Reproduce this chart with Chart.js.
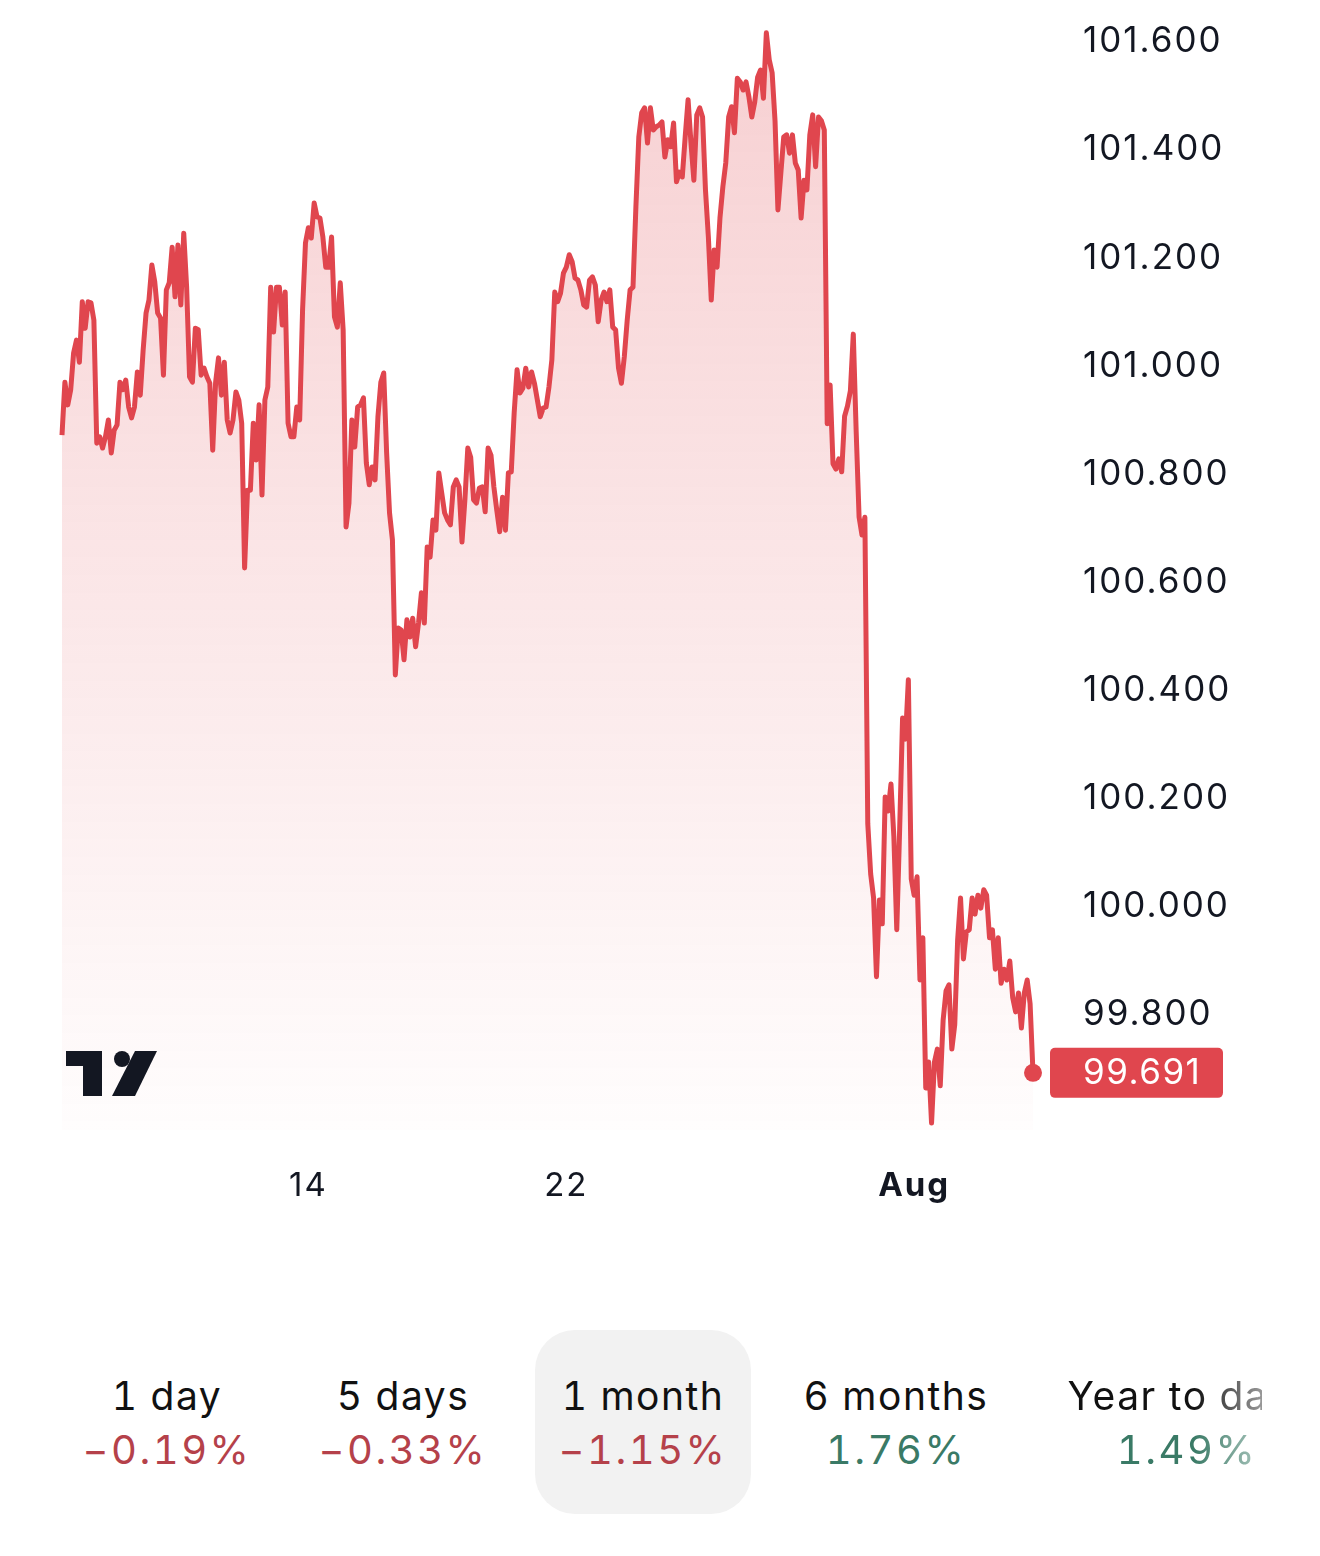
<!DOCTYPE html>
<html>
<head>
<meta charset="utf-8">
<script src="https://cdn.jsdelivr.net/npm/chart.js@4.4.1/dist/chart.umd.min.js"></script>
<style>
  html, body { margin: 0; padding: 0; background: #fff; }
  body { width: 1320px; height: 1556px; position: relative; overflow: hidden; font-family: Inter, "Noto Sans", sans-serif; color: #131722; }
  #wrap { position: absolute; left: 0; top: 0; width: 1320px; height: 1240px; }
  .logo { position: absolute; left: 66px; top: 1050px; }
  .sel-bg { position: absolute; left: 535px; top: 1330px; width: 216px; height: 184px; background: #f2f2f2; border-radius: 40px; }
  .per { position: absolute; top: 1372px; width: 320px; text-align: center; white-space: nowrap; font-variant-numeric: tabular-nums; }
  .per .t { font-size: 39px; line-height: 48px; color: #111; letter-spacing: 1.5px; }
  .per .p { font-size: 40px; line-height: 48px; margin-top: 6px; letter-spacing: 2.5px; }
  .neg { color: #b5414a; }
  .pos { color: #3a7a66; }
  .clip { position: absolute; left: 0; top: 1330px; width: 1262px; height: 200px; overflow: hidden; }
  .clip .per { top: 42px; -webkit-mask-image: linear-gradient(to right, #000 0, #000 52%, rgba(0,0,0,0.15) 84%); mask-image: linear-gradient(to right, #000 0, #000 52%, rgba(0,0,0,0.15) 84%); }
</style>
</head>
<body>
<div id="wrap"><canvas id="c"></canvas></div>

<svg class="logo" width="92" height="47" viewBox="0 0 92 47">
  <rect x="0" y="1" width="36" height="15" fill="#131722"/>
  <rect x="17" y="1" width="19" height="45" fill="#131722"/>
  <circle cx="56" cy="9" r="8" fill="#131722"/>
  <polygon points="69,1 91,1 69,46 46,46" fill="#131722"/>
</svg>

<div class="sel-bg"></div>
<div id="periods"></div>

<script>
// ── Data ────────────────────────────────────────────────────────────────────
const prices = [
  // early July
  100.872,100.970,100.928,100.956,101.024,101.048,101.007,101.119,101.070,101.119,
  101.117,101.085,100.857,100.869,100.848,100.869,100.900,100.839,100.881,100.891,
  100.970,100.956,100.974,100.924,100.904,100.924,100.989,100.946,101.030,101.098,
  101.122,101.187,101.156,101.098,101.089,100.983,101.141,101.154,101.220,101.128,
  101.224,101.113,101.246,101.146,100.980,100.970,101.070,101.067,100.983,100.996,
  100.980,100.968,100.844,100.970,101.015,100.946,101.007,100.900,100.876,100.900,
  100.952,100.937,100.894,100.626,100.770,100.770,100.894,100.826,100.928,100.761,
  100.937,100.961,101.146,101.063,101.146,101.146,101.076,101.137,
  // mid July
  100.894,100.869,100.869,100.924,100.900,101.104,101.228,101.256,101.237,101.302,
  101.276,101.274,101.239,101.183,101.183,101.239,101.091,101.072,101.154,101.067,
  100.702,100.746,100.900,100.850,100.924,100.928,100.941,100.820,100.780,100.813,
  100.789,100.906,100.970,100.987,100.839,100.728,100.678,100.428,100.515,100.511,
  100.456,100.530,100.498,100.533,100.480,100.524,100.580,100.524,100.665,100.646,
  100.715,100.696,100.802,100.765,100.728,100.715,100.706,100.776,100.789,100.776,
  100.674,100.752,100.848,100.831,100.752,100.746,100.774,100.776,100.730,100.848,
  100.835,100.776,100.733,100.693,100.757,100.696,100.802,100.804,100.913,100.993,
  // late July
  100.950,100.959,100.996,100.961,100.989,100.968,100.937,100.906,100.922,
  100.924,100.961,101.011,101.137,101.119,101.135,101.172,101.183,101.206,101.193,
  101.163,101.159,101.141,101.113,101.109,101.159,101.165,101.150,101.082,101.122,
  101.137,101.119,101.141,101.072,101.067,100.996,100.968,101.017,101.085,
  101.141,101.146,101.295,101.424,101.469,101.478,101.413,101.478,101.437,101.443,
  101.446,101.452,101.387,101.419,101.406,101.450,101.341,101.359,101.350,
  101.424,101.493,101.413,101.344,101.465,101.478,101.461,101.326,101.239,101.122,
  101.215,101.183,101.274,101.332,101.376,101.461,101.480,101.432,
  101.533,101.526,101.511,101.526,101.498,101.461,101.489,101.535,101.548,101.496,
  101.617,101.567,101.543,101.454,101.289,101.357,101.424,101.428,101.394,101.428,
  101.376,101.363,101.274,101.344,101.326,101.428,101.465,101.369,101.461,101.454,
  101.437,
  // end July / August
  100.893,100.965,100.819,100.809,100.828,100.804,100.907,100.926,
  100.954,101.059,100.878,100.720,100.687,100.720,100.152,100.059,100.015,99.869,
  100.011,99.967,100.202,100.176,100.226,100.128,99.956,100.143,100.348,
  100.309,100.419,100.050,100.020,100.054,99.863,99.941,99.663,99.711,99.598,
  99.711,99.735,99.667,99.789,99.843,99.854,99.735,99.780,99.937,100.015,
  99.902,99.952,99.956,100.015,99.985,100.020,99.996,100.030,
  100.020,99.941,99.956,99.883,99.941,99.857,99.883,99.863,
  99.898,99.830,99.804,99.839,99.774,99.839,99.863,99.819,99.691
];

const xTickPos  = [85, 174, 294];
const xTickText = ['14', '22', 'Aug'];
const yTicks    = [101.6, 101.4, 101.2, 101.0, 100.8, 100.6, 100.4, 100.2, 100.0, 99.8];

const periodNames  = ['1 day', '5 days', '1 month', '6 months', 'Year to date'];
const periodChange = [-0.19, -0.33, -1.15, 1.76, 1.49];
const periodCenter = [167, 403, 643, 896, 1187];

const RED = '#e0464e';
const N = prices.length;
const labels = prices.map((_, i) => {
  const k = xTickPos.indexOf(i);
  return k >= 0 ? xTickText[k] : '';
});

// ── Text spacing + last price tag ───────────────────────────────────────────
const spacingPlugin = {
  id: 'spacing',
  beforeDraw(chart) { chart.ctx.letterSpacing = '2px'; }
};

const tagPlugin = {
  id: 'lastTag',
  afterDraw(chart) {
    const { ctx, chartArea, scales: { y } } = chart;
    const py = y.getPixelForValue(prices[N - 1]);
    const x0 = chartArea.right + 17;
    ctx.save();
    ctx.fillStyle = RED;
    ctx.beginPath();
    ctx.roundRect(x0, py - 25, 173, 50, 5);
    ctx.fill();
    ctx.fillStyle = '#fff';
    ctx.font = '35px Inter';
    ctx.letterSpacing = '1.5px';
    ctx.textBaseline = 'middle';
    ctx.textAlign = 'left';
    ctx.fillText(prices[N - 1].toFixed(3), chartArea.right + 50, py + 1);
    ctx.restore();
  }
};

new Chart(document.getElementById('c'), {
  type: 'line',
  data: {
    labels,
    datasets: [{
      data: prices,
      borderColor: RED,
      borderWidth: 5,
      borderJoinStyle: 'round',
      tension: 0,
      fill: 'start',
      clip: false,
      backgroundColor: (c) => {
        const a = c.chart.chartArea;
        if (!a) return 'rgba(224,70,78,0.15)';
        const g = c.chart.ctx.createLinearGradient(0, a.top, 0, a.bottom);
        g.addColorStop(0, 'rgba(224,70,78,0.26)');
        g.addColorStop(1, 'rgba(224,70,78,0.01)');
        return g;
      },
      pointRadius: (c) => c.dataIndex === N - 1 ? 9 : 0,
      pointBackgroundColor: RED,
      pointBorderWidth: 0,
      pointHoverRadius: 0
    }]
  },
  options: {
    responsive: true,
    maintainAspectRatio: false,
    animation: false,
    layout: { padding: { left: 62, top: 20, right: 0, bottom: 0 } },
    plugins: { legend: { display: false }, tooltip: { enabled: false } },
    scales: {
      x: {
        type: 'category',
        grid: { display: false, drawTicks: false },
        border: { display: false },
        ticks: {
          autoSkip: false,
          maxRotation: 0,
          padding: 36,
          color: '#131722',
          font: (c) => ({ family: 'Inter', size: 33, weight: (c.tick && c.tick.label === 'Aug') ? 'bold' : 'normal' })
        },
        afterFit: (s) => { s.height = 110; s.paddingLeft = 0; s.paddingRight = 0; }
      },
      y: {
        position: 'right',
        min: 99.5852,
        max: 101.6407,
        grid: { display: false, drawTicks: false },
        border: { display: false },
        afterBuildTicks: (s) => { s.ticks = yTicks.map(v => ({ value: v })); },
        afterFit: (s) => { s.width = 287; s.paddingTop = 0; s.paddingBottom = 0; },
        ticks: {
          padding: 50,
          color: '#131722',
          font: { family: 'Inter', size: 35 },
          callback: (v) => Number(v).toFixed(3)
        }
      }
    }
  },
  plugins: [spacingPlugin, tagPlugin]
});

// ── Period row ──────────────────────────────────────────────────────────────
const host = document.getElementById('periods');
periodNames.forEach((name, i) => {
  const el = document.createElement('div');
  el.className = 'per';
  el.style.left = (periodCenter[i] - 160) + 'px';
  const v = periodChange[i];
  const txt = (v < 0 ? '\u2212' : '') + Math.abs(v).toFixed(2) + '%';
  el.innerHTML = `<div class="t">${name}</div><div class="p ${v < 0 ? 'neg' : 'pos'}">${txt}</div>`;
  if (i === periodNames.length - 1) {
    const clip = document.createElement('div');
    clip.className = 'clip';
    clip.appendChild(el);
    host.appendChild(clip);
  } else {
    host.appendChild(el);
  }
});
</script>
</body>
</html>
